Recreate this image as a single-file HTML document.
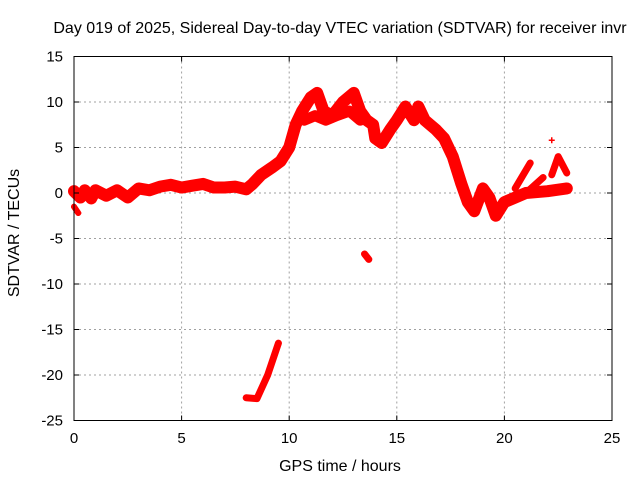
<!DOCTYPE html>
<html><head><meta charset="utf-8"><style>
body{margin:0;background:#fff}
svg text{font-family:"Liberation Sans",sans-serif;font-size:15px;fill:#000}
</style></head><body>
<svg id="chart" width="640" height="480">
<text x="340" y="33" text-anchor="middle" style="font-size:16px">Day 019 of 2025, Sidereal Day-to-day VTEC variation (SDTVAR) for receiver invr</text>
<text x="340" y="471" text-anchor="middle" style="font-size:16px">GPS time / hours</text>
<text transform="translate(19,233) rotate(-90)" text-anchor="middle" style="font-size:16px">SDTVAR / TECUs</text>
<g id="grid"></g><g id="marks"></g><g id="axes"></g>
</svg>
<script>
const xTicks=[0,5,10,15,20,25];
const yTicks=[15,10,5,0,-5,-10,-15,-20,-25];
const mainHours=[0,0.3,0.5,0.8,1,1.5,2,2.5,3,3.5,4,4.5,5,5.5,6,6.5,7,7.5,8,8.3,8.7,9.2,9.6,10,10.3,10.6,11,11.3,11.6,12,12.5,13,13.3,13.6,13.9,14,14.3,14.7,15,15.4,15.8,16,16.3,16.8,17.2,17.6,18,18.3,18.6,19,19.3,19.6,20,20.5,21,22,22.9];
const mainValues=[0.2,-0.5,0.3,-0.6,0.3,-0.3,0.3,-0.5,0.5,0.3,0.7,0.9,0.6,0.8,1,0.6,0.6,0.7,0.4,1,2,2.8,3.5,5,7.5,9,10.5,11,9,8.5,10,11,9,8,7.5,6,5.5,7,8,9.5,8,9.5,8,7,6,4,1,-1,-2,0.5,-0.5,-2.5,-1,-0.5,0,0.2,0.5];
const lowerHours=[10.7,11.2,11.7,12.2,12.8,13.3];
const lowerValues=[8,8.5,8,8.5,9,8];
const dipHours=[8,8.5,9,9.5];
const dipValues=[-22.5,-22.6,-20,-16.5];
const patchHours=[13.5,13.7];
const patchValues=[-6.7,-7.3];
const startHours=[0,0.2];
const startValues=[-1.5,-2.2];
const spikeAHours=[20.5,21.2];
const spikeAValues=[0.5,3.3];
const spikeBHours=[21,21.8];
const spikeBValues=[0,1.7];
const spikeCHours=[22.2,22.5,22.9];
const spikeCValues=[2,4,2.2];
const outlierHours=[22.2];
const outlierValues=[5.8];
const X=h=>74+h*(612-74)/25;
const Y=v=>193-v*45.5/5;
const NS="http://www.w3.org/2000/svg";
const grid=document.getElementById('grid'),axes=document.getElementById('axes'),marks=document.getElementById('marks');
function mk(p,tag,a){const e=document.createElementNS(NS,tag);for(const k in a)e.setAttribute(k,a[k]);p.appendChild(e);return e;}
xTicks.forEach(t=>{
 if(t>0&&t<25){const g=mk(grid,'line',{x1:X(t),x2:X(t),y1:Y(15),y2:Y(-25),stroke:'#a0a0a0','stroke-dasharray':'2,3'});
 
 }
 const tx=mk(axes,'text',{x:X(t),y:443,'text-anchor':'middle'});tx.textContent=t;
 
 
 mk(axes,'line',{x1:X(t),x2:X(t),y1:Y(-25),y2:Y(-25)-5,stroke:'#000'});
 mk(axes,'line',{x1:X(t),x2:X(t),y1:Y(15),y2:Y(15)+5,stroke:'#000'});
});
yTicks.forEach(t=>{
 if(t<15&&t>-25){const g=mk(grid,'line',{x1:X(0),x2:X(25),y1:Y(t),y2:Y(t),stroke:'#a0a0a0','stroke-dasharray':'2,3'});
 
 }
 const tx=mk(axes,'text',{x:63,y:Y(t)+5,'text-anchor':'end'});tx.textContent=t;
 
 
 mk(axes,'line',{x1:X(0),x2:X(0)+5,y1:Y(t),y2:Y(t),stroke:'#000'});
 mk(axes,'line',{x1:X(25),x2:X(25)-5,y1:Y(t),y2:Y(t),stroke:'#000'});
});
const fr=mk(axes,'rect',{x:X(0),y:Y(15),width:X(25)-X(0),height:Y(-25)-Y(15),fill:'none',stroke:'#000'});


function series(hs,vs,w,name){
 const pts=hs.map((h,i)=>X(h)+','+Y(vs[i])).join(' ');
 if(hs.length>1){const p=mk(marks,'polyline',{points:pts,fill:'none',stroke:'#f00','stroke-width':w,'stroke-linejoin':'round','stroke-linecap':'round'});
 
 }
 hs.forEach((h,i)=>{const m=mk(marks,'path',{d:`M${X(h)-3},${Y(vs[i])}h6M${X(h)},${Y(vs[i])-3}v6`,stroke:'#f00','stroke-width':1.5});
 
 });
}
series(mainHours,mainValues,12,'main-trace');
series(lowerHours,lowerValues,11,'lower-branch');
series(dipHours,dipValues,7,'dip-segment');
series(patchHours,patchValues,7,'patch');
series(startHours,startValues,6,'start-dip');
series(spikeAHours,spikeAValues,7,'spike-a');
series(spikeBHours,spikeBValues,7,'spike-b');
series(spikeCHours,spikeCValues,7,'spike-c');
series(outlierHours,outlierValues,0,'outlier');
</script>
</body></html>
